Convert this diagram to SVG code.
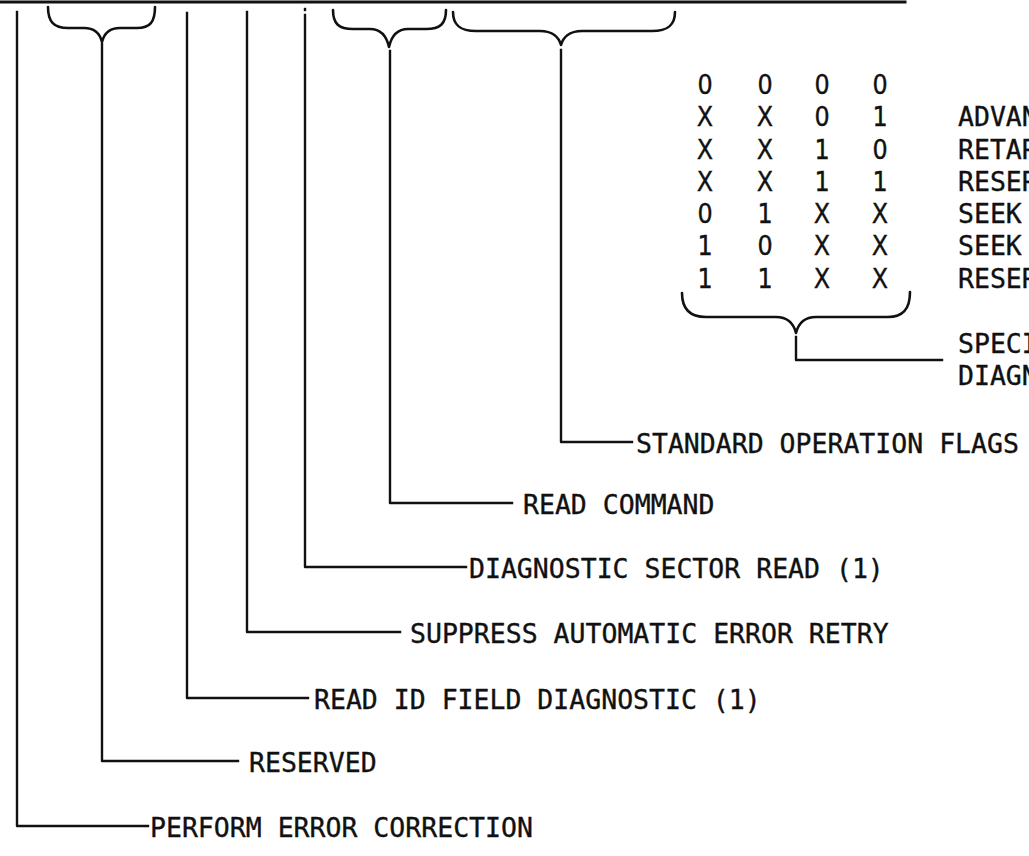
<svg xmlns="http://www.w3.org/2000/svg" width="1029" height="856" viewBox="0 0 1029 856">
<style>
.ln{fill:none;stroke:#111;stroke-width:2.4;stroke-linecap:square;stroke-linejoin:round}
.br{fill:none;stroke:#111;stroke-width:2.6;stroke-linecap:round;stroke-linejoin:round}
.t{font-family:"DejaVu Sans Mono","Liberation Mono",monospace;font-size:26.5px;fill:#111;stroke:#111;stroke-width:0.35}
.c{text-anchor:middle;font-family:"DejaVu Sans Condensed","DejaVu Sans",sans-serif}
</style>
<rect width="1029" height="856" fill="#fff"/>
<g id="register">
<line class="ln" x1="0" y1="2" x2="905" y2="2" style="stroke-width:3"/>
</g>
<g id="connectors">
<path class="br" d="M48,7 C48,22 54,28 68,28 L84,28 C95,28 100,34 102,42 C104,34 109,28 120,28 L137,28 C150,28 155,22 155,7"/>
<path class="br" d="M333,10 C333,24 339,29 353,29 L370,29 C382,29 387,38 389,47 C391,38 396,29 408,29 L426,29 C440,29 446,24 446,10"/>
<path class="br" d="M453,12 C453,25 460,31 476,31 L540,31 C553,31 559,38 561,45 C563,38 569,31 582,31 L652,31 C668,31 675,25 675,12"/>
<path class="br" d="M682,293 C682,309 690,317 706,317 L776,317 C789,317 794,325 796,333 C798,325 803,317 816,317 L888,317 C903,317 910,309 910,292"/>
<polyline class="ln" points="17,12 17,826 148,826"/>
<polyline class="ln" points="102,44 102,761 238,761"/>
<polyline class="ln" points="187,13 187,698 308,698"/>
<polyline class="ln" points="247,12 247,632 400,632"/>
<line class="ln" x1="305" y1="9" x2="305" y2="10"/>
<polyline class="ln" points="305,15 305,567 466,567"/>
<polyline class="ln" points="390,51 390,503 512,503"/>
<polyline class="ln" points="561,50 561,442 632,442"/>
<polyline class="ln" points="796,337 796,360 942,360"/>
</g>
<g id="table">
<g class="t c">
<text x="705" y="94">0</text><text x="765" y="94">0</text><text x="822" y="94">0</text><text x="880" y="94">0</text>
<text x="705" y="126">X</text><text x="765" y="126">X</text><text x="822" y="126">0</text><text x="880" y="126">1</text>
<text x="705" y="159">X</text><text x="765" y="159">X</text><text x="822" y="159">1</text><text x="880" y="159">0</text>
<text x="705" y="191">X</text><text x="765" y="191">X</text><text x="822" y="191">1</text><text x="880" y="191">1</text>
<text x="705" y="223">0</text><text x="765" y="223">1</text><text x="822" y="223">X</text><text x="880" y="223">X</text>
<text x="705" y="255">1</text><text x="765" y="255">0</text><text x="822" y="255">X</text><text x="880" y="255">X</text>
<text x="705" y="288">1</text><text x="765" y="288">1</text><text x="822" y="288">X</text><text x="880" y="288">X</text>
</g>
<g class="t">
<text x="958" y="126">ADVAN</text>
<text x="958" y="159">RETAR</text>
<text x="958" y="191">RESER</text>
<text x="958" y="223">SEEK</text>
<text x="958" y="255">SEEK</text>
<text x="958" y="288">RESER</text>
</g>
</g>
<g id="node-special-diag"><text class="t" x="958" y="353">SPECI</text><text class="t" x="958" y="385">DIAGN</text></g>
<g id="node-standard-flags"><text class="t" x="636" y="453">STANDARD OPERATION FLAGS</text></g>
<g id="node-read-command"><text class="t" x="523" y="514">READ COMMAND</text></g>
<g id="node-diag-sector-read"><text class="t" x="469" y="578">DIAGNOSTIC SECTOR READ (1)</text></g>
<g id="node-suppress-retry"><text class="t" x="410" y="643">SUPPRESS AUTOMATIC ERROR RETRY</text></g>
<g id="node-read-id"><text class="t" x="314" y="709">READ ID FIELD DIAGNOSTIC (1)</text></g>
<g id="node-reserved"><text class="t" x="249" y="772">RESERVED</text></g>
<g id="node-perform-ecc"><text class="t" x="150" y="837">PERFORM ERROR CORRECTION</text></g>
</svg>
